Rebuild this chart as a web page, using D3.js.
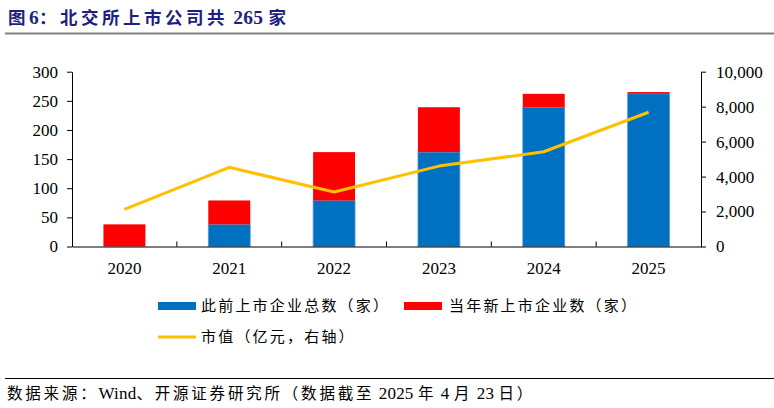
<!DOCTYPE html>
<html>
<head>
<meta charset="utf-8">
<script src="https://cdn.jsdelivr.net/npm/d3@7/dist/d3.min.js"></script>
<style>
  body { margin: 0; background: #fff; }
  svg { display: block; }
</style>
</head>
<body>
<svg id="chart" width="774" height="408"></svg>
<script>
const years = ["2020", "2021", "2022", "2023", "2024", "2025"];
const priorTotal = [0, 38, 79, 162, 239, 262];
const newListed = [38, 41, 83, 77, 23, 3];
const marketCap = [2130, 4530, 3120, 4600, 5420, 7680];
const leftTicks = [0, 50, 100, 150, 200, 250, 300];
const rightTicks = [0, 2000, 4000, 6000, 8000, 10000];

const svg = d3.select("#chart");
const serif = "'Liberation Serif', 'Noto Sans CJK SC', serif";
const cjk = "'Liberation Serif', 'Noto Sans CJK SC', sans-serif";

// write text with letter-spacing only on CJK runs
function mixedText(sel, str, cjkSpacing, latinSpacing, latinSize) {
  const runs = str.match(/[\u3000-\u9fff\uff00-\uffef]+|[^\u3000-\u9fff\uff00-\uffef]+/g);
  runs.forEach(r => {
    const isCjk = /[\u3000-\u9fff\uff00-\uffef]/.test(r);
    const t = sel.append("tspan").attr("letter-spacing", isCjk ? cjkSpacing : latinSpacing).text(r);
    if (!isCjk && latinSize) t.attr("font-size", latinSize);
  });
}

// Title
const title = svg.append("text")
  .attr("x", 8).attr("y", 24)
  .attr("font-family", cjk).attr("font-weight", "bold")
  .attr("font-size", 17.5)
  .attr("fill", "#1F1F7F");
mixedText(title, "图6：北交所上市公司共 265 家", 3.5, 0.3, 19.5);
svg.append("line").attr("x1", 5).attr("x2", 774).attr("y1", 33.5).attr("y2", 33.5)
  .attr("stroke", "#808080").attr("stroke-width", 2);

const L = 72, R = 701, T = 71.7, B = 246.5;
const x = d3.scaleBand().domain(years).range([L, R]).paddingInner(0).paddingOuter(0);
const yL = d3.scaleLinear().domain([0, 300]).range([B, T]);
const yR = d3.scaleLinear().domain([0, 10000]).range([B, T]);
const bw = x.bandwidth() * 0.4;

const data = years.map((y, i) => ({ year: y, prior: priorTotal[i], added: newListed[i], cap: marketCap[i] }));

// Bars
const g = svg.append("g");
g.selectAll("rect.prior").data(data).enter().append("rect")
  .attr("class", "prior")
  .attr("x", d => x(d.year) + (x.bandwidth() - bw) / 2)
  .attr("width", bw)
  .attr("y", d => yL(d.prior))
  .attr("height", d => yL(0) - yL(d.prior))
  .attr("fill", "#0070C0")
  .attr("stroke", d => d.prior > 0 ? "#5B9BD5" : "none").attr("stroke-width", 0.8);
g.selectAll("rect.added").data(data).enter().append("rect")
  .attr("class", "added")
  .attr("x", d => x(d.year) + (x.bandwidth() - bw) / 2)
  .attr("width", bw)
  .attr("y", d => yL(d.prior + d.added))
  .attr("height", d => yL(d.prior) - yL(d.prior + d.added))
  .attr("fill", "#FF0000");

// Line
const line = d3.line().x(d => x(d.year) + x.bandwidth() / 2).y(d => yR(d.cap));
svg.append("path").datum(data).attr("d", line)
  .attr("fill", "none").attr("stroke", "#FFC000").attr("stroke-width", 3)
  .attr("stroke-linejoin", "round");

// Axes
function styleAxis(sel) {
  sel.attr("font-family", serif);
  sel.selectAll("path.domain").attr("stroke", "#000").attr("stroke-width", 1);
  sel.selectAll(".tick line").attr("stroke", "#000");
  sel.selectAll("text").attr("font-family", serif).attr("font-size", 17).attr("fill", "#000");
}
const axL = svg.append("g").attr("transform", `translate(${L},0)`)
  .call(d3.axisLeft(yL).tickValues(leftTicks).tickSize(5).tickSizeOuter(0).tickPadding(9));
styleAxis(axL);
const axR = svg.append("g").attr("transform", `translate(${R},0)`)
  .call(d3.axisRight(yR).tickValues(rightTicks).tickSize(5).tickSizeOuter(0).tickPadding(10).tickFormat(d3.format(",")));
styleAxis(axR);
const axB = svg.append("g").attr("transform", `translate(0,${B})`)
  .call(d3.axisBottom(x).tickSize(0).tickSizeOuter(0).tickPadding(15));
styleAxis(axB);
// category boundary ticks (pointing up)
axB.selectAll("line.bound").data(years.slice(1)).enter().append("line")
  .attr("class", "bound")
  .attr("x1", d => x(d)).attr("x2", d => x(d))
  .attr("y1", 0).attr("y2", -5).attr("stroke", "#000");

// Legend
const lg = svg.append("g").attr("font-family", cjk).attr("font-size", 15).attr("letter-spacing", 2.2).attr("fill", "#000");
lg.append("rect").attr("x", 158).attr("y", 302).attr("width", 38).attr("height", 8).attr("fill", "#0070C0");
lg.append("text").attr("x", 201).attr("y", 306).attr("dominant-baseline", "central").text("此前上市企业总数（家）");
lg.append("rect").attr("x", 404).attr("y", 302).attr("width", 38).attr("height", 8).attr("fill", "#FF0000");
lg.append("text").attr("x", 449).attr("y", 306).attr("dominant-baseline", "central").text("当年新上市企业数（家）");
lg.append("line").attr("x1", 158).attr("x2", 196).attr("y1", 337).attr("y2", 337).attr("stroke", "#FFC000").attr("stroke-width", 3);
lg.append("text").attr("x", 201).attr("y", 337).attr("dominant-baseline", "central").text("市值（亿元，右轴）");

// Footer
svg.append("line").attr("x1", 5).attr("x2", 774).attr("y1", 378.5).attr("y2", 378.5)
  .attr("stroke", "#000").attr("stroke-width", 1);
const src = svg.append("text").attr("x", 7).attr("y", 393).attr("dominant-baseline", "central")
  .attr("font-family", cjk).attr("font-size", 15.5).attr("fill", "#000");
mixedText(src, "数据来源：Wind、开源证券研究所（数据截至 2025 年 4 月 23 日）", 2.8, 0.2, 17);
</script>
</body>
</html>
